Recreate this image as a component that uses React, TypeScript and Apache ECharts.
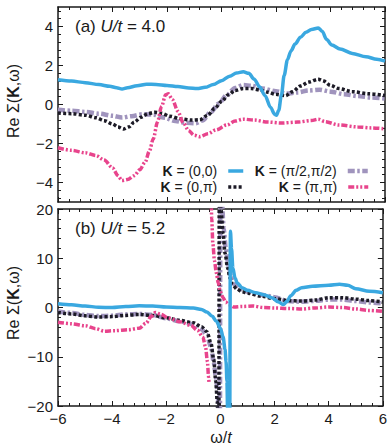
import React, { useEffect, useRef } from 'react';
import * as echarts from 'echarts';

type P = [number, number | null][];

// ---- tick values ----
const xTicks = [-6, -4, -2, 0, 2, 4, 6];
const topYTicks = [-4, -2, 0, 2, 4];
const topYMinor = [-4.8, -4.4, -3.6, -3.2, -2.8, -2.4, -1.6, -1.2, -0.8, -0.4, 0.4, 0.8, 1.2, 1.6, 2.4, 2.8, 3.2, 3.6, 4.4, 4.8];
const bottomYTicks = [-20, -10, 0, 10, 20];

// ---- legend names ----
const N00 = 'K = (0,0)';
const N0P = 'K = (0,π)';
const NPP2 = 'K = (π/2,π/2)';
const NPP = 'K = (π,π)';

// ---- panel (a) U/t = 4.0 ----
const topK00: P = [[-6, 1.27], [-5.5, 1.2], [-5, 1.12], [-4.5, 1.02], [-4.1, 0.93], [-3.85, 0.86], [-3.65, 0.8], [-3.45, 0.86], [-3.1, 0.96], [-2.75, 1.04], [-2.4, 1.03], [-2, 0.98], [-1.6, 0.92], [-1.2, 0.85], [-0.9, 0.82], [-0.6, 0.88], [-0.3, 1.02], [0, 1.22], [0.3, 1.45], [0.55, 1.62], [0.8, 1.68], [1.0, 1.6], [1.2, 1.3], [1.4, 0.9], [1.6, 0.45], [1.8, -0.15], [1.95, -0.5], [2.02, -0.55], [2.1, -0.3], [2.2, 0.5], [2.3, 1.5], [2.42, 2.3], [2.55, 2.75], [2.7, 3.1], [2.9, 3.45], [3.1, 3.7], [3.3, 3.85], [3.55, 3.92], [3.7, 3.75], [3.85, 3.35], [4.05, 3.05], [4.35, 2.85], [4.8, 2.62], [5.3, 2.45], [5.7, 2.32], [6, 2.22]];
const topK0P: P = [[-6, -0.44], [-5.5, -0.47], [-5, -0.55], [-4.6, -0.68], [-4.3, -0.83], [-4.0, -1.0], [-3.8, -1.15], [-3.6, -1.26], [-3.4, -1.15], [-3.2, -0.9], [-2.95, -0.65], [-2.7, -0.47], [-2.45, -0.4], [-2.2, -0.45], [-1.9, -0.6], [-1.5, -0.73], [-1.1, -0.8], [-0.8, -0.78], [-0.5, -0.55], [-0.25, -0.2], [0, 0.15], [0.25, 0.5], [0.5, 0.72], [0.8, 0.82], [1.1, 0.82], [1.4, 0.75], [1.7, 0.63], [2.0, 0.52], [2.35, 0.45], [2.6, 0.65], [2.9, 0.95], [3.2, 1.15], [3.55, 1.3], [3.75, 1.2], [4.0, 0.98], [4.3, 0.82], [4.8, 0.66], [5.4, 0.55], [6, 0.46]];
const topKPP2: P = [[-6, -0.27], [-5.5, -0.32], [-5, -0.38], [-4.5, -0.47], [-4.0, -0.58], [-3.65, -0.67], [-3.3, -0.6], [-2.9, -0.5], [-2.5, -0.52], [-2.1, -0.68], [-1.7, -0.85], [-1.3, -0.94], [-0.95, -0.96], [-0.7, -0.82], [-0.4, -0.4], [-0.1, 0.05], [0.2, 0.5], [0.5, 0.85], [0.8, 1.0], [1.1, 0.96], [1.5, 0.82], [2.0, 0.68], [2.4, 0.56], [2.8, 0.62], [3.2, 0.72], [3.6, 0.76], [4.0, 0.66], [4.5, 0.53], [5, 0.43], [5.5, 0.36], [6, 0.31]];
const topKPP: P = [[-6, -2.22], [-5.5, -2.35], [-5, -2.48], [-4.6, -2.62], [-4.3, -2.85], [-4.0, -3.25], [-3.8, -3.65], [-3.65, -3.9], [-3.45, -3.85], [-3.2, -3.65], [-3.0, -3.35], [-2.8, -2.95], [-2.65, -2.4], [-2.5, -1.75], [-2.35, -0.9], [-2.2, -0.1], [-2.05, 0.5], [-1.95, 0.55], [-1.8, 0.25], [-1.6, -0.35], [-1.4, -0.95], [-1.2, -1.35], [-1.0, -1.58], [-0.8, -1.65], [-0.5, -1.5], [-0.2, -1.3], [0.2, -1.05], [0.5, -0.85], [0.8, -0.75], [1.2, -0.8], [1.7, -0.9], [2.2, -0.95], [2.8, -0.9], [3.3, -0.82], [3.55, -0.75], [3.8, -0.88], [4.3, -1.05], [5, -1.15], [5.5, -1.2], [6, -1.25]];

// ---- panel (b) U/t = 5.2 ----
const botK00: P = [[-6, 0.75], [-5.5, 0.55], [-5, 0.3], [-4.5, 0.05], [-4, 0.0], [-3.5, 0.2], [-3, 0.35], [-2.5, 0.3], [-2, 0.1], [-1.5, 0.0], [-1, -0.1], [-0.7, -0.4], [-0.5, -0.9], [-0.3, -1.8], [-0.15, -2.8], [0, -4.2], [0.1, -6], [0.17, -8.5], [0.21, -11], [0.24, -15], [0.27, -22], [0.3, -30], [0.34, -30], [0.37, 15.5], [0.41, 12], [0.46, 8], [0.54, 6], [0.62, 5], [0.8, 4.0], [1.0, 3.5], [1.3, 3.0], [1.6, 2.6], [1.9, 2.0], [2.15, 1.1], [2.33, 0.6], [2.45, 1.2], [2.6, 2.4], [2.8, 3.5], [3.0, 4.0], [3.4, 4.3], [4.0, 4.5], [4.4, 4.7], [4.7, 4.5], [5.0, 3.8], [5.5, 3.3], [6, 3.0]];
const botK0P: P = [[-6, -1.0], [-5.5, -1.3], [-5, -1.7], [-4.5, -1.95], [-4, -1.85], [-3.5, -1.6], [-3, -1.4], [-2.5, -1.6], [-2, -2.1], [-1.5, -2.6], [-1, -3.1], [-0.7, -3.9], [-0.5, -4.9], [-0.35, -7.2], [-0.25, -10.5], [-0.17, -15], [-0.12, -19], [-0.08, -25], [-0.06, -30], [-0.04, 30], [0.02, 20], [0.1, 15], [0.17, 11], [0.27, 8], [0.35, 6], [0.45, 4.6], [0.6, 3.8], [0.8, 3.2], [1.0, 2.9], [1.5, 2.3], [2.0, 1.8], [2.5, 1.4], [3.0, 1.3], [3.5, 1.5], [4.0, 2.0], [4.5, 2.0], [5.0, 1.7], [5.5, 1.4], [6, 1.1]];
const botKPP2: P = [[-6, -0.8], [-5.5, -1.1], [-5, -1.5], [-4.5, -1.75], [-4, -1.65], [-3.5, -1.4], [-3, -1.3], [-2.5, -1.5], [-2, -2.2], [-1.5, -2.8], [-1, -3.4], [-0.7, -4.4], [-0.5, -5.6], [-0.35, -8], [-0.25, -11], [-0.17, -14], [-0.1, -17], [-0.05, -24], [-0.02, -30], [0.0, 30], [0.05, 22], [0.12, 16], [0.2, 12], [0.3, 8.5], [0.4, 6], [0.55, 4.5], [0.75, 3.7], [1.0, 3.2], [1.5, 2.6], [2.0, 2.1], [2.5, 1.3], [3.0, 1.15], [3.5, 1.35], [4.0, 1.6], [4.5, 1.6], [5.0, 1.3], [5.5, 1.0], [6, 0.8]];
const botKPP: P = [[-6, -3.0], [-5.5, -3.3], [-5, -3.7], [-4.6, -4.3], [-4.3, -4.8], [-3.9, -4.7], [-3.4, -4.5], [-3.0, -4.2], [-2.75, -3.2], [-2.55, -1.8], [-2.4, -1.0], [-2.2, -1.4], [-1.9, -2.2], [-1.5, -2.9], [-1.1, -3.6], [-0.85, -4.6], [-0.65, -6.0], [-0.55, -8], [-0.48, -11], [-0.44, -14], [-0.42, -15.5], [-0.38, null], [-0.35, 25], [-0.32, 18], [-0.28, 13], [-0.22, 9.5], [-0.15, 7], [-0.08, 5], [0, 3.2], [0.1, 2.0], [0.2, 1.1], [0.3, 0.6], [0.5, 0.1], [0.8, 0.2], [1.2, 0.3], [1.6, 0.0], [2.0, -0.1], [2.5, -0.2], [3.0, -0.3], [3.5, -0.1], [4.0, 0.1], [4.5, 0.0], [5.0, -0.3], [5.5, -0.6], [6, -0.8]];

const FONT = 'Liberation Sans';
const INK = '#1a1a1a';

const STY: Record<string, { color: string; width: number; type: any }> = {
  [N00]: { color: '#3aa8e0', width: 3.5, type: 'solid' },
  [N0P]: { color: '#1c1a26', width: 3.5, type: [3, 2.2] },
  [NPP2]: { color: '#a094bd', width: 4.5, type: [7, 2.5, 2.5, 2.5] },
  [NPP]: { color: '#e8448c', width: 3.5, type: [6, 2, 2, 2, 2, 2] },
};

const fmt = (v: number) => (v < 0 ? '\u2212' + Math.abs(v) : String(v));

function line(name: string, data: P, xi: number, yi: number, z: number) {
  const s = STY[name];
  return {
    type: 'line',
    name,
    data,
    xAxisIndex: xi,
    yAxisIndex: yi,
    symbol: 'none',
    showSymbol: false,
    smooth: 0.3,
    smoothMonotone: 'x',
    clip: true,
    z,
    lineStyle: { color: s.color, width: s.width, type: s.type, cap: 'butt' },
    itemStyle: { color: s.color },
  };
}

const axLine = { show: true, onZero: false, lineStyle: { color: INK, width: 1.5 } };

function xAx(grid: number, pos: string, labels: boolean) {
  return {
    type: 'value',
    gridIndex: grid,
    position: pos,
    min: -6,
    max: 6,
    interval: 2,
    axisLine: axLine,
    axisTick: { show: true, inside: true, length: 5, lineStyle: { color: INK, width: 1 } },
    minorTick: { show: true, splitNumber: 5, length: 3, lineStyle: { color: INK, width: 1 } },
    axisLabel: { show: labels, formatter: fmt, fontSize: 15, fontFamily: FONT, color: INK, margin: 5 },
    splitLine: { show: false },
    minorSplitLine: { show: false },
  };
}

function topY(pos: string, labels: boolean) {
  return [
    {
      type: 'value',
      gridIndex: 0,
      position: pos,
      min: -5,
      max: 5,
      axisLine: axLine,
      axisTick: { show: true, inside: true, length: 5, customValues: topYTicks, lineStyle: { color: INK, width: 1 } },
      axisLabel: { show: labels, customValues: topYTicks, formatter: fmt, fontSize: 15, fontFamily: FONT, color: INK, margin: 5 },
      splitLine: { show: false },
    },
    {
      type: 'value',
      gridIndex: 0,
      position: pos,
      min: -5,
      max: 5,
      axisLine: { show: false, onZero: false },
      axisTick: { show: true, inside: true, length: 3, customValues: topYMinor, lineStyle: { color: INK, width: 1 } },
      axisLabel: { show: false },
      splitLine: { show: false },
    },
  ];
}

function botY(pos: string, labels: boolean) {
  return {
    type: 'value',
    gridIndex: 1,
    position: pos,
    min: -20,
    max: 20,
    interval: 10,
    axisLine: axLine,
    axisTick: { show: true, inside: true, length: 5, lineStyle: { color: INK, width: 1 } },
    minorTick: { show: true, splitNumber: 5, length: 3, lineStyle: { color: INK, width: 1 } },
    axisLabel: { show: labels, formatter: fmt, fontSize: 15, fontFamily: FONT, color: INK, margin: 5 },
    splitLine: { show: false },
    minorSplitLine: { show: false },
  };
}

function legendFor(name: string, right: number, top: number, w: number) {
  const s = STY[name];
  return {
    data: [name],
    right,
    top,
    orient: 'horizontal',
    align: 'right',
    padding: 0,
    itemWidth: w,
    itemHeight: 10,
    selectedMode: false,
    lineStyle: { width: s.width },
    itemStyle: { color: 'rgba(0,0,0,0)', borderColor: 'rgba(0,0,0,0)', borderWidth: 0, opacity: 0 },
    formatter: (n: string) => '{b|K}{n|' + n.slice(1) + '}{g| }',
    textStyle: {
      fontSize: 14,
      fontFamily: FONT,
      color: INK,
      lineHeight: 14,
      rich: {
        b: { fontSize: 14, fontFamily: FONT, fontWeight: 'bold', color: INK, lineHeight: 14 },
        n: { fontSize: 14, fontFamily: FONT, color: INK, lineHeight: 14 },
        g: { fontSize: 14, fontFamily: FONT, width: 6, lineHeight: 14 },
      },
    },
  };
}

const ylabelRich = {
  n: { fontSize: 16, fontFamily: FONT, fill: INK },
  b: { fontSize: 16, fontFamily: FONT, fontWeight: 'bold', fill: INK },
};
const panelRich = {
  n: { fontSize: 17, fontFamily: FONT, fill: INK },
  i: { fontSize: 17, fontFamily: FONT, fontStyle: 'italic', fill: INK },
};

export default function App() {
  const ref = useRef<HTMLDivElement>(null);
  useEffect(() => {
    if (!ref.current) return;
    const chart = echarts.init(ref.current, null, { renderer: 'svg' });
    const option: any = {
      animation: false,
      backgroundColor: '#ffffff',
      grid: [
        { left: 58, top: 7, width: 327, height: 195, containLabel: false },
        { left: 58, top: 209, width: 327, height: 197, containLabel: false },
      ],
      xAxis: [xAx(0, 'bottom', false), xAx(0, 'top', false), xAx(1, 'bottom', true), xAx(1, 'top', false)],
      yAxis: [...topY('left', true), ...topY('right', false), botY('left', true), botY('right', false)],
      legend: [
        legendFor(N00, 145, 164, 15),
        legendFor(N0P, 145, 180, 15),
        legendFor(NPP2, 20, 164, 20),
        legendFor(NPP, 20, 180, 20),
      ],
      series: [
        line(NPP2, topKPP2, 0, 0, 2),
        line(N0P, topK0P, 0, 0, 3),
        line(NPP, topKPP, 0, 0, 4),
        line(N00, topK00, 0, 0, 5),
        line(NPP2, botKPP2, 2, 4, 2),
        line(N0P, botK0P, 2, 4, 3),
        line(NPP, botKPP, 2, 4, 4),
        line(N00, botK00, 2, 4, 5),
      ],
      graphic: [
        {
          type: 'text', left: 75, top: 18,
          style: { text: '{n|(a) }{i|U/t}{n| = 4.0}', rich: panelRich, fontSize: 17, fontFamily: FONT, fill: INK },
        },
        {
          type: 'text', left: 75, top: 220,
          style: { text: '{n|(b) }{i|U/t}{n| = 5.2}', rich: panelRich, fontSize: 17, fontFamily: FONT, fill: INK },
        },
        {
          type: 'text', x: 13, y: 101, rotation: Math.PI / 2,
          style: { text: '{n|Re Σ(}{b|K}{n|,ω)}', rich: ylabelRich, fontSize: 16, fontFamily: FONT, fill: INK, align: 'center', verticalAlign: 'middle' },
        },
        {
          type: 'text', x: 13, y: 303, rotation: Math.PI / 2,
          style: { text: '{n|Re Σ(}{b|K}{n|,ω)}', rich: ylabelRich, fontSize: 16, fontFamily: FONT, fill: INK, align: 'center', verticalAlign: 'middle' },
        },
        {
          type: 'text', x: 221, y: 437,
          style: { text: '{n|ω/}{i|t}', rich: { n: { fontSize: 16, fontFamily: FONT, fill: INK }, i: { fontSize: 16, fontFamily: FONT, fontStyle: 'italic', fill: INK } }, fontSize: 16, fontFamily: FONT, fill: INK, align: 'center', verticalAlign: 'middle' },
        },
      ],
    };
    chart.setOption(option);
    return () => chart.dispose();
  }, []);
  return <div ref={ref} style={{ position: 'absolute', left: 0, top: 0, width: 390, height: 447 }} />;
}
